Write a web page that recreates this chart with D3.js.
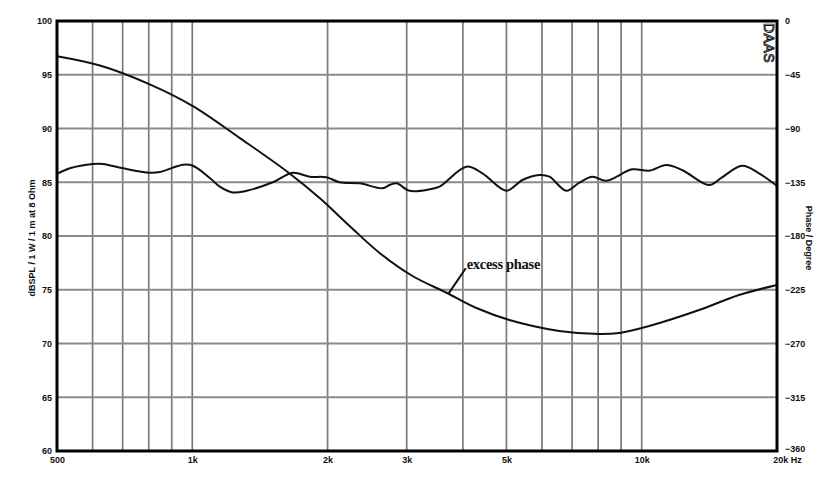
<!DOCTYPE html>
<html><head><meta charset="utf-8">
<script src="https://cdn.jsdelivr.net/npm/d3@7"></script>
<style>body{margin:0;background:#fff}svg{display:block}</style>
</head><body>
<script>
// ---- data ----
const splFreq = [500,534,601,633,701,804,847,953,1003,1094,1151,1230,1322,1510,1673,1825,1990,2127,2356,2651,2748,2848,3043,3372,3548,4074,4422,4999,5426,5919,6230,6796,7263,7763,8340,9525,10390,11340,12300,14120,15090,16720,18240,20000];
const splDb   = [85.77,86.30,86.70,86.70,86.30,85.89,85.95,86.63,86.54,85.40,84.59,84.05,84.21,85.00,85.89,85.52,85.46,85.00,84.90,84.44,84.74,84.90,84.21,84.34,84.59,86.45,85.83,84.21,85.21,85.67,85.52,84.21,84.96,85.52,85.14,86.20,86.07,86.60,86.14,84.74,85.46,86.54,85.83,84.65];
const phaseFreq = [500,623,804,1003,1276,1630,1920,2239,2611,3090,3678,4288,5076,6557,8045,8912,10390,13420,16460,20000];
const phaseDeg  = [-29.5,-37.3,-53.0,-71.2,-98.0,-126.4,-148.2,-171.6,-194.2,-213.5,-227.5,-240.3,-250.3,-259.5,-262.1,-261.2,-255.4,-242.0,-229.4,-221.0];
const xGrid = [600,700,800,900,1000,2000,3000,4000,5000,6000,7000,8000,9000,10000];
const xTickVals = [500,1000,2000,3000,5000,10000,20000];
const xTickLabels = ["500","1k","2k","3k","5k","10k","20k Hz"];
const yTicks = [100,95,90,85,80,75,70,65,60];
const phaseTicks = [0,-45,-90,-135,-180,-225,-270,-315,-360];

const W = 829, H = 478;
const L = 57, R = 777, T = 21, B = 451;
const svg = d3.select("body").append("svg").attr("width", W).attr("height", H);

const x = d3.scaleLog().domain([500, 20000]).range([L, R]);
const y = d3.scaleLinear().domain([60, 100]).range([B, T]);
const yp = d3.scaleLinear().domain([-360, 0]).range([B, T]);

const font = "'Liberation Sans Narrow','Liberation Sans',Arial,sans-serif";

// grid
svg.append("g").selectAll("line").data(xGrid).join("line")
  .attr("x1", d => x(d)).attr("x2", d => x(d)).attr("y1", T).attr("y2", B)
  .attr("stroke", "#7a7a7a").attr("stroke-width", 1.7);
svg.append("g").selectAll("line").data(yTicks.slice(1, -1)).join("line")
  .attr("x1", L).attr("x2", R).attr("y1", d => y(d)).attr("y2", d => y(d))
  .attr("stroke", "#8a8a8a").attr("stroke-width", 1.8);

// curves
const line = d3.line().curve(d3.curveCatmullRom.alpha(0.5));
svg.append("path")
  .attr("d", line(splFreq.map((f, i) => [x(f), y(splDb[i])])))
  .attr("fill", "none").attr("stroke", "#111").attr("stroke-width", 2);
svg.append("path")
  .attr("d", line(phaseFreq.map((f, i) => [x(f), yp(phaseDeg[i])])))
  .attr("fill", "none").attr("stroke", "#111").attr("stroke-width", 2);

// frame
svg.append("rect").attr("x", L).attr("y", T).attr("width", R - L).attr("height", B - T)
  .attr("fill", "none").attr("stroke", "#000").attr("stroke-width", 3);

// axes (labels only)
const yAxis = d3.axisLeft(y).tickValues(yTicks).tickSize(0).tickPadding(5);
const gL = svg.append("g").attr("transform", `translate(${L},0)`).call(yAxis);
const pAxis = d3.axisRight(yp).tickValues(phaseTicks).tickSize(0).tickPadding(8);
const gR = svg.append("g").attr("transform", `translate(${R},0)`).call(pAxis);
const xAxis = d3.axisBottom(x).tickValues(xTickVals).tickSize(0).tickPadding(6)
  .tickFormat((d, i) => xTickLabels[i]);
const gB = svg.append("g").attr("transform", `translate(0,${B})`).call(xAxis);
[gL, gR, gB].forEach(g => {
  g.select(".domain").remove();
  g.selectAll("text").attr("font-family", font).attr("font-size", 9)
    .attr("font-weight", "bold").attr("fill", "#111");
});
gB.selectAll(".tick").filter(d => d === 20000).select("text").attr("dx", 10);
gR.selectAll(".tick").filter(d => d === -360).select("text").attr("dy", "0.1em");

// axis titles
svg.append("text").attr("transform", `translate(35,${(T + B) / 2 + 2}) rotate(-90)`)
  .attr("text-anchor", "middle").attr("font-family", font).attr("font-size", 9)
  .attr("font-weight", "bold").attr("fill", "#111").text("dBSPL / 1 W / 1 m at 8 Ohm");
svg.append("text").attr("transform", `translate(806,${(T + B) / 2 + 2}) rotate(90)`)
  .attr("text-anchor", "middle").attr("font-family", font).attr("font-size", 9)
  .attr("font-weight", "bold").attr("fill", "#111").text("Phase / Degree");

// DAAS logo
svg.append("text").attr("transform", `translate(${R - 3},${T + 2}) rotate(90)`)
  .attr("text-anchor", "start").attr("dominant-baseline", "hanging")
  .attr("font-family", font).attr("font-size", 14).attr("fill", "#fff")
  .attr("stroke", "#111").attr("stroke-width", 0.9).attr("letter-spacing", 0.5).text("DAAS");

// annotation
svg.append("line").attr("x1", x(3720)).attr("y1", yp(-228)).attr("x2", x(4060)).attr("y2", yp(-207))
  .attr("stroke", "#111").attr("stroke-width", 2);
svg.append("text").attr("x", x(4080)).attr("y", yp(-208))
  .attr("font-family", "'Liberation Serif','Times New Roman',serif").attr("font-size", 14.5)
  .attr("font-weight", "bold").attr("fill", "#111").attr("letter-spacing", -0.3).text("excess phase");
</script>
</body></html>
